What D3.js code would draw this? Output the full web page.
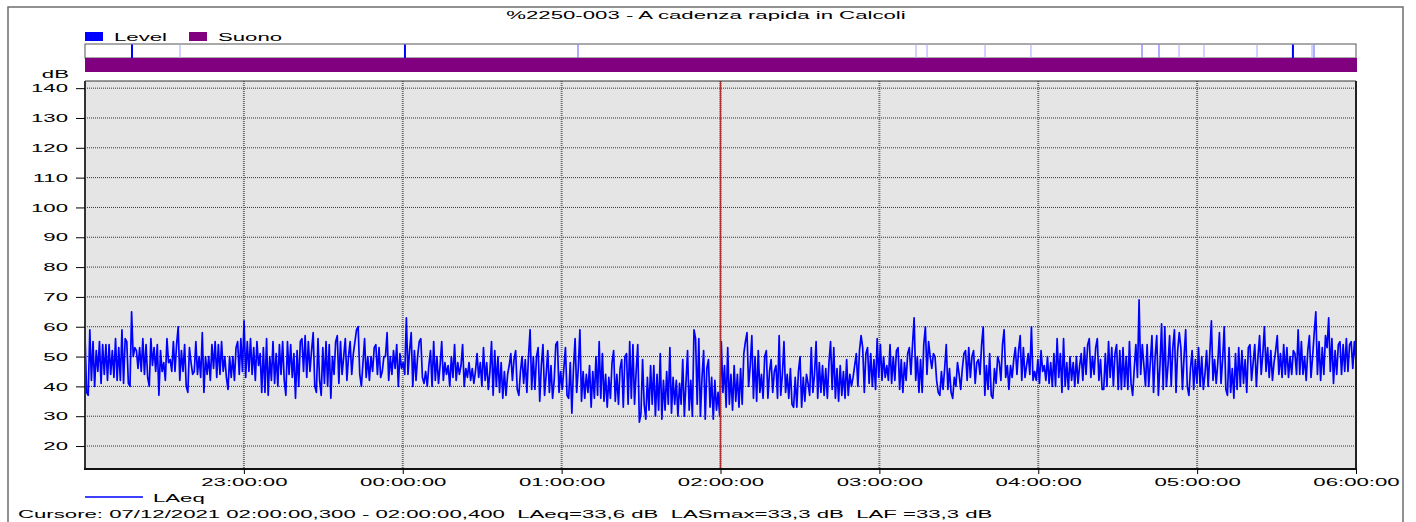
<!DOCTYPE html>
<html>
<head>
<meta charset="utf-8">
<style>
  body { margin: 0; background: #fff; }
  text { font-family: "Liberation Sans", Arial, sans-serif; font-size: 11.5px; fill: #000; }
</style>
</head>
<body>
<svg id="chart" width="1416" height="522"></svg>
<script src="https://d3js.org/d3.v7.min.js"></script>
<script>
// --- data ---
const title = "%2250-003 - A cadenza rapida in Calcoli";
const startTime = "22:00:00";
const endTime = "06:00:00";
const cursorTime = "02:00:00";
const cursorText = "Cursore: 07/12/2021 02:00:00,300 - 02:00:00,400  LAeq=33,6 dB  LASmax=33,3 dB  LAF =33,3 dB";
const yTicks = [20, 30, 40, 50, 60, 70, 80, 90, 100, 110, 120, 130, 140];
const xTicks = ["23:00:00", "00:00:00", "01:00:00", "02:00:00", "03:00:00", "04:00:00", "05:00:00", "06:00:00"];
const bandNames = ["Level", "Suono"];

// "Level" markers in the top band (time, shade: d = dark, m = medium, l = light)
const levelTimes = ["22:17:45", "22:35:53", "00:00:50", "01:06:11", "03:13:50", "03:18:00", "03:39:54",
  "03:57:15", "04:39:11", "04:45:36", "04:53:10", "05:02:35", "05:22:37", "05:36:11", "05:43:23", "05:44:08"];
const levelShades = ["d", "l", "d", "m", "l", "l", "l", "l", "m", "m", "l", "l", "l", "d", "l", "m"];

// LAeq, dB, evenly spaced from 22:00:00 to 06:00:00
const laeq = [
  57,38,37,59,42,55,40,52,45,55, 41,54,44,54,42,54,44,52,43,56, 42,53,42,59,41,56,55,41,40,65,
  50,53,52,46,53,45,56,44,54,43, 40,56,47,53,45,54,37,52,45,48, 42,56,48,49,45,55,45,54,60,42,
  52,45,54,40,38,53,48,44,45,55,44,50, 43,58,38,50,44,50,42,54,46,55, 43,54,44,55,45,50,43,39,50,43,
  50,42,53,55,44,56,45,62,43,55, 45,56,44,53,42,55,47,51,38,53, 38,56,37,50,42,55,41,51,40,54,
  44,55,42,37,55,44,54,43,51,36,
  52,40,55,56,45,57,43,55,45, 52,58,40,38,56,42,37,53,41,55, 40,54,36,50,44,55,57,41,55,44,
  50,56,42,50,55,44,51,55,59,60, 44,40,48,56,43,50,42,50,45,53, 54,44,53,43,45,50,50,58,42,50,44,52,
  46,54,40,51,46,48,44,63,44,52, 58,40,52,42,50,55,56,43,41,45, 40,47,52,40,55,42,50,41,47,55,
  42,48,44,47,40,50,43,54,42,48, 44,47,54,40,46,43,48,42,46,41, 45,51,43,48,40,53,42,48,39,45,
  55,37,52,40,50,38,48,36,45,37, 44,
  47,51,42,49,52,39,37,45,50,41, 49,38,50,59,39,50,39,50,53,35, 47,54,37,44,52,38,47,36,42,54,
  55,38,45,39,46,53,37,36,48,31, 46,56,38,46,59,35,45,36,44,38, 47,33,45,36,50,37,55,36,51,35,
  44,33,43,36,48,52,35,44,34,46, 49,33,50,51,34,55,36,54,34,45, 54,28,31,49,34,29,43,32,47,34,
  47,30,44,32,51,29,42,32,45,34, 53,31,43,34,42,30,41,34,49,30, 41,52,32,42,30,59,56,34,56,30,
  43,52,29,46,49,33,43,29,42,32, 38,30,
  55,38,47,33,53,34,44,32,47,35, 44,33,46,34,51,55,58,40,47,57, 36,50,35,52,38,44,36,50,52,36,
  45,49,38,45,47,36,57,37,44,55, 38,44,36,46,34,33,43,33,45, 50,33,43,35,44,41,37,53,38,44,
  55,36,48,38,47,37,46,36,48,55, 39,53,36,46,35,47,37,45,36,49, 37,44,40,43,47,51,40,52,57,53,
  38,51,53,41,51,40,49,39,56,43, 54,42,50,43,47,42,54,41,50,42, 52,53,39,49,38,48,42,51,53,44,
  54,63,42,50,38,49,38,54,60,44, 55,50,46,
  51,50,42,38,37,45,39,46,54,39, 46,38,36,43,40,48,44,39,46,51, 52,42,53,43,50,52,41,48,49,44,
  54,60,37,47,39,51,37,36,46,41, 50,48,42,54,59,43,47,39,47,43, 49,53,44,52,57,42,53,43,47,51,
  44,60,42,45,42,49,41,52,45,47, 42,50,41,48,40,51,40,56,43,51, 38,56,40,48,39,50,42,48,40,50,
  41,47,51,42,53,44,54,56,43,50, 44,53,56,42,49,39,39,51,40,55, 43,53,40,51,54,39,52,39,53,40,
  50,39,55,41,37,46,54,43,69,44, 54,47,
  40,54,40,48,57,38,50,57,37,47, 61,39,60,40,47,57,40,53,59,38, 52,58,53,39,50,59,40,37,46,52,
  39,49,41,53,40,50,39,44,52,40, 51,62,42,49,41,48,58,41,49,60, 39,37,53,38,46,36,51,39,53,40,
  52,41,49,38,53,54,42,48,54,40, 50,57,44,51,60,45,53,43,52,42, 48,52,57,44,51,43,54,44,53,43,
  50,44,52,51,44,59,44,55, 44,50,42,52,57,43,50,58,65,44, 55,42,53,44,57,53,63,45,56,41,
  52,44,54,55,44,54,45,56, 45,54,55,46,55,48
];

// --- drawing ---
const SX = 1.93; // the source renders its text horizontally stretched
const svg = d3.select("#chart");

function toDate(hms) {
  const [h, m, s] = hms.split(":").map(Number);
  return h >= 12 ? new Date(2021, 11, 6, h, m, s) : new Date(2021, 11, 7, h, m, s);
}

function stretch(sel) {
  sel.each(function() {
    const t = d3.select(this);
    const x = +t.attr("x") || 0, y = +t.attr("y") || 0;
    t.attr("x", null).attr("y", null)
      .attr("transform", `translate(${x},${y}) scale(${SX},1)`);
  });
}

function label(x, y, str, anchor) {
  return svg.append("text")
    .attr("transform", `translate(${x},${y}) scale(${SX},1)`)
    .attr("text-anchor", anchor || "start")
    .style("white-space", "pre")
    .text(str);
}

const plotLeft = 85, plotRight = 1356, plotTop = 81, plotBottom = 469;

const x = d3.scaleTime()
  .domain([toDate(startTime), toDate(endTime)])
  .range([plotLeft, plotRight]);

const y = d3.scaleLinear()
  .domain([12.3, 142.4])
  .range([plotBottom, plotTop]);

// outer frame
svg.append("path")
  .attr("d", "M8,540V7H1403V540")
  .attr("fill", "none")
  .attr("stroke", "#6e6e6e")
  .attr("stroke-width", 1.5);

// title
label(706, 19, title, "middle");

// band legend
const bandColors = ["#0000ff", "#800080"];
const legendX = [85, 189];
bandNames.forEach((name, i) => {
  svg.append("rect")
    .attr("x", legendX[i]).attr("y", 32)
    .attr("width", 18).attr("height", 9)
    .attr("fill", bandColors[i]);
  label(legendX[i] + 29, 40.5, name);
});

// top band: Level markers + Suono bar
svg.append("rect")
  .attr("x", plotLeft).attr("y", 44)
  .attr("width", plotRight - plotLeft).attr("height", 14)
  .attr("fill", "#fff")
  .attr("stroke", "#555").attr("stroke-width", 1);

const shadeColor = { d: "#0000ff", m: "#7777ff", l: "#b4b4ff" };
svg.selectAll(".mark")
  .data(levelTimes)
  .enter().append("line")
  .attr("class", "mark")
  .attr("x1", d => x(toDate(d))).attr("x2", d => x(toDate(d)))
  .attr("y1", 44.5).attr("y2", 58)
  .attr("stroke", (d, i) => shadeColor[levelShades[i]])
  .attr("stroke-width", (d, i) => levelShades[i] === "d" ? 2 : 1.2);

svg.append("rect")
  .attr("x", plotLeft).attr("y", 58)
  .attr("width", plotRight - plotLeft + 1).attr("height", 14)
  .attr("fill", "#800080");

// plot background
svg.append("rect")
  .attr("x", plotLeft).attr("y", plotTop)
  .attr("width", plotRight - plotLeft).attr("height", plotBottom - plotTop)
  .attr("fill", "#e5e5e5");

// grid
svg.selectAll(".hgrid")
  .data(yTicks)
  .enter().append("line")
  .attr("class", "hgrid")
  .attr("x1", plotLeft).attr("x2", plotRight)
  .attr("y1", d => y(d)).attr("y2", d => y(d))
  .attr("stroke", "#333")
  .attr("stroke-width", 1)
  .attr("stroke-dasharray", "1,1");

svg.selectAll(".vgrid")
  .data(xTicks.slice(0, -1))
  .enter().append("line")
  .attr("class", "vgrid")
  .attr("x1", d => x(toDate(d))).attr("x2", d => x(toDate(d)))
  .attr("y1", plotTop).attr("y2", plotBottom)
  .attr("stroke", "#6a6a6a")
  .attr("stroke-width", 2)
  .attr("stroke-dasharray", "1,1");

// LAeq trace
const t0 = toDate(startTime).getTime();
const step = (toDate(endTime).getTime() - t0) / (laeq.length - 1);
const line = d3.line()
  .x((d, i) => x(new Date(t0 + i * step)))
  .y(d => y(d));

svg.append("path")
  .datum(laeq)
  .attr("d", line)
  .attr("fill", "none")
  .attr("stroke", "#0000ff")
  .attr("stroke-width", 1.7)
  .attr("stroke-linejoin", "round");

// cursor
svg.append("line")
  .attr("x1", x(toDate(cursorTime))).attr("x2", x(toDate(cursorTime)))
  .attr("y1", plotTop).attr("y2", plotBottom)
  .attr("stroke", "#b03030")
  .attr("stroke-width", 1.5);

// plot border
svg.append("line").attr("x1", plotLeft).attr("x2", plotRight).attr("y1", plotTop).attr("y2", plotTop)
  .attr("stroke", "#333").attr("stroke-width", 1);
svg.append("line").attr("x1", plotLeft).attr("x2", plotLeft).attr("y1", plotTop).attr("y2", plotBottom)
  .attr("stroke", "#333").attr("stroke-width", 2);
svg.append("line").attr("x1", plotRight).attr("x2", plotRight).attr("y1", plotTop).attr("y2", plotBottom)
  .attr("stroke", "#222").attr("stroke-width", 2);
svg.append("line").attr("x1", plotLeft - 1).attr("x2", plotRight + 1).attr("y1", plotBottom).attr("y2", plotBottom)
  .attr("stroke", "#111").attr("stroke-width", 2);

// axes
const yAxis = svg.append("g")
  .attr("transform", `translate(${plotLeft},0)`)
  .call(d3.axisLeft(y).tickValues(yTicks).tickSize(9).tickPadding(8));
yAxis.select(".domain").remove();
yAxis.selectAll("line").attr("stroke", "#000");
stretch(yAxis.selectAll("text"));
yAxis.attr("font-size", null).attr("font-family", null);

const xAxis = svg.append("g")
  .attr("transform", `translate(0,${plotBottom})`)
  .call(d3.axisBottom(x).tickValues(xTicks.map(toDate)).tickFormat(d3.timeFormat("%H:%M:%S")).tickSize(5).tickPadding(4));
xAxis.select(".domain").remove();
xAxis.selectAll("line").attr("stroke", "#000");
stretch(xAxis.selectAll("text"));
xAxis.attr("font-size", null).attr("font-family", null);

label(69, 78, "dB", "end");

// series legend + cursor readout
svg.append("line")
  .attr("x1", 85).attr("x2", 143)
  .attr("y1", 497).attr("y2", 497)
  .attr("stroke", "#0000ff").attr("stroke-width", 1.5);
label(153, 501.5, "LAeq");
label(18, 518, cursorText);
</script>
</body>
</html>
